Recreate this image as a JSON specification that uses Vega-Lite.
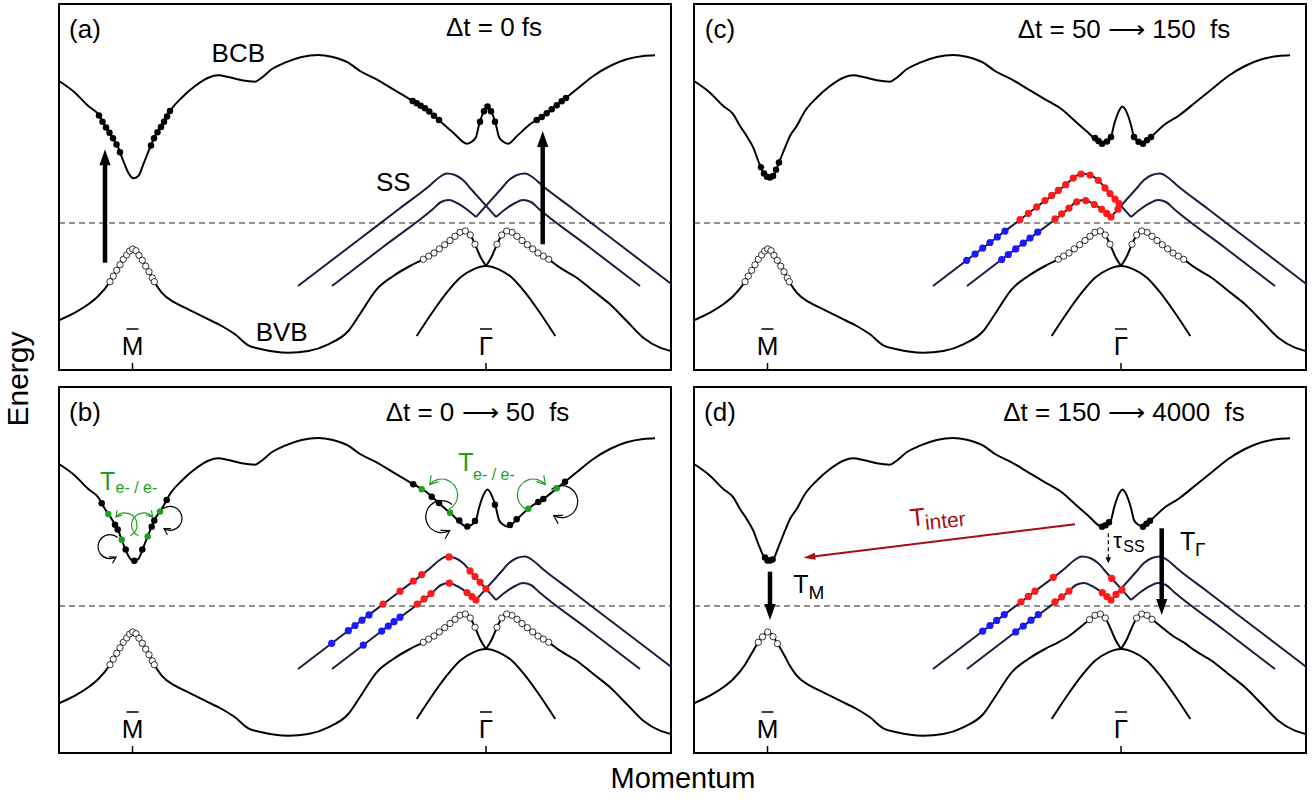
{
"$schema":"https://vega.github.io/schema/vega-lite/v6.json",
"padding":{"left":3,"top":3,"right":0,"bottom":0},
"background":"white",
"data":{"values":[
{"p":["a","b","c","d"],"g":"fermi","k":0,"k2":612,"E":147},
{"p":["a","b","c","d"],"g":"tick","k":73.5,"E":0,"E2":7},
{"p":["a","b","c","d"],"g":"tick","k":427,"E":0,"E2":7},
{"p":["a","b","c","d"],"g":"bar","k":73.5,"E":41},
{"p":["a","b","c","d"],"g":"bar","k":427,"E":41},
{"p":["a","b","c","d"],"g":"lab","k":73.5,"E":23,"txt":"M"},
{"p":["a","b","c","d"],"g":"lab","k":427,"E":23,"txt":"Γ"},
{"p":["a","b","c","d"],"g":"bulk","c":"BCB","k":0,"E":289},
{"p":["a","b","c","d"],"g":"bulk","c":"BCB","k":16,"E":277.3},
{"p":["a","b","c","d"],"g":"bulk","c":"BCB","k":29.3,"E":264},
{"p":["a","b","c","d"],"g":"bulk","c":"BCB","k":39.3,"E":255.7},
{"p":["a","b","c","d"],"g":"bulk","c":"BCB","k":46,"E":244},
{"p":["a","b","c","d"],"g":"bulk","c":"BCB","k":52.7,"E":234},
{"p":["a","b","c","d"],"g":"bulk","c":"BCB","k":59.3,"E":222.3},
{"p":["a","b","c","d"],"g":"bulk","c":"BCB","k":64.3,"E":209},
{"p":["a","b","c","d"],"g":"bulk","c":"BCB","k":69.3,"E":197.3},
{"p":["a","b","c","d"],"g":"bulk","c":"BCB","k":74.3,"E":191.7},
{"p":["a","b","c","d"],"g":"bulk","c":"BCB","k":79.3,"E":194},
{"p":["a","b","c","d"],"g":"bulk","c":"BCB","k":84.3,"E":205.7},
{"p":["a","b","c","d"],"g":"bulk","c":"BCB","k":91,"E":222.3},
{"p":["a","b","c","d"],"g":"bulk","c":"BCB","k":96,"E":234},
{"p":["a","b","c","d"],"g":"bulk","c":"BCB","k":102.7,"E":244},
{"p":["a","b","c","d"],"g":"bulk","c":"BCB","k":111,"E":259},
{"p":["a","b","c","d"],"g":"bulk","c":"BCB","k":122.7,"E":272.3},
{"p":["a","b","c","d"],"g":"bulk","c":"BCB","k":136,"E":284},
{"p":["a","b","c","d"],"g":"bulk","c":"BCB","k":149.3,"E":292.3},
{"p":["a","b","c","d"],"g":"bulk","c":"BCB","k":159.3,"E":294.7},
{"p":["a","b","c","d"],"g":"bulk","c":"BCB","k":169.3,"E":293},
{"p":["a","b","c","d"],"g":"bulk","c":"BCB","k":182.7,"E":289.7},
{"p":["a","b","c","d"],"g":"bulk","c":"BCB","k":196,"E":288.3},
{"p":["a","b","c","d"],"g":"bulk","c":"BCB","k":202.7,"E":292.3},
{"p":["a","b","c","d"],"g":"bulk","c":"BCB","k":212.7,"E":300.7},
{"p":["a","b","c","d"],"g":"bulk","c":"BCB","k":226,"E":307.3},
{"p":["a","b","c","d"],"g":"bulk","c":"BCB","k":242.7,"E":313},
{"p":["a","b","c","d"],"g":"bulk","c":"BCB","k":259.3,"E":315},
{"p":["a","b","c","d"],"g":"bulk","c":"BCB","k":272.7,"E":313.3},
{"p":["a","b","c","d"],"g":"bulk","c":"BCB","k":289.3,"E":307.3},
{"p":["a","b","c","d"],"g":"bulk","c":"BCB","k":301,"E":299},
{"p":["a","b","c","d"],"g":"bulk","c":"BCB","k":317.7,"E":290.7},
{"p":["a","b","c","d"],"g":"bulk","c":"BCB","k":334.3,"E":280.7},
{"p":["a","b","c","d"],"g":"bulk","c":"BCB","k":351,"E":270.7},
{"p":["a","b","c","d"],"g":"bulk","c":"BCB","k":367.7,"E":260.7},
{"p":["a","b","c","d"],"g":"bulk","c":"BCB","k":381,"E":249},
{"p":["a","b","c","d"],"g":"bulk","c":"BCB","k":394.3,"E":237.3},
{"p":["a","b","c","d"],"g":"bulk","c":"BCB","k":408,"E":226.3},
{"p":["a","b","c","d"],"g":"bulk","c":"BCB","k":413,"E":228.5},
{"p":["a","b","c","d"],"g":"bulk","c":"BCB","k":417,"E":233},
{"p":["a","b","c","d"],"g":"bulk","c":"BCB","k":420,"E":245},
{"p":["a","b","c","d"],"g":"bulk","c":"BCB","k":423,"E":254.5},
{"p":["a","b","c","d"],"g":"bulk","c":"BCB","k":426,"E":261},
{"p":["a","b","c","d"],"g":"bulk","c":"BCB","k":428.5,"E":263.5},
{"p":["a","b","c","d"],"g":"bulk","c":"BCB","k":431,"E":261},
{"p":["a","b","c","d"],"g":"bulk","c":"BCB","k":434,"E":254.5},
{"p":["a","b","c","d"],"g":"bulk","c":"BCB","k":437,"E":245},
{"p":["a","b","c","d"],"g":"bulk","c":"BCB","k":440,"E":233},
{"p":["a","b","c","d"],"g":"bulk","c":"BCB","k":444,"E":228.5},
{"p":["a","b","c","d"],"g":"bulk","c":"BCB","k":449,"E":226.3},
{"p":["a","b","c","d"],"g":"bulk","c":"BCB","k":458,"E":234},
{"p":["a","b","c","d"],"g":"bulk","c":"BCB","k":471,"E":245.7},
{"p":["a","b","c","d"],"g":"bulk","c":"BCB","k":484.3,"E":254},
{"p":["a","b","c","d"],"g":"bulk","c":"BCB","k":501,"E":267.3},
{"p":["a","b","c","d"],"g":"bulk","c":"BCB","k":517.7,"E":280.7},
{"p":["a","b","c","d"],"g":"bulk","c":"BCB","k":534.3,"E":294},
{"p":["a","b","c","d"],"g":"bulk","c":"BCB","k":551,"E":304},
{"p":["a","b","c","d"],"g":"bulk","c":"BCB","k":567.7,"E":310.7},
{"p":["a","b","c","d"],"g":"bulk","c":"BCB","k":584.3,"E":314},
{"p":["a","b","c","d"],"g":"bulk","c":"BCB","k":596,"E":314.7},
{"p":["a","b","c","d"],"g":"bulk","c":"BVL","k":0,"E":49.7},
{"p":["a","b","c","d"],"g":"bulk","c":"BVL","k":16,"E":57.3},
{"p":["a","b","c","d"],"g":"bulk","c":"BVL","k":29.3,"E":65.7},
{"p":["a","b","c","d"],"g":"bulk","c":"BVL","k":39.3,"E":74},
{"p":["a","b","c","d"],"g":"bulk","c":"BVL","k":51,"E":88.3},
{"p":["a","b","c","d"],"g":"bulk","c":"BVL","k":57.7,"E":99.7},
{"p":["a","b","c","d"],"g":"bulk","c":"BVL","k":64.3,"E":110.7},
{"p":["a","b","c","d"],"g":"bulk","c":"BVL","k":70.7,"E":119},
{"p":["a","b","c","d"],"g":"bulk","c":"BVL","k":73.7,"E":121},
{"p":["a","b","c","d"],"g":"bulk","c":"BVL","k":77,"E":119.3},
{"p":["a","b","c","d"],"g":"bulk","c":"BVL","k":83.3,"E":109.7},
{"p":["a","b","c","d"],"g":"bulk","c":"BVL","k":90,"E":98.3},
{"p":["a","b","c","d"],"g":"bulk","c":"BVL","k":95.3,"E":88.3},
{"p":["a","b","c","d"],"g":"bulk","c":"BVL","k":102.7,"E":77.3},
{"p":["a","b","c","d"],"g":"bulk","c":"BVL","k":116,"E":67.3},
{"p":["a","b","c","d"],"g":"bulk","c":"BVL","k":129.3,"E":60.7},
{"p":["a","b","c","d"],"g":"bulk","c":"BVL","k":146,"E":52.3},
{"p":["a","b","c","d"],"g":"bulk","c":"BVL","k":162.7,"E":44},
{"p":["a","b","c","d"],"g":"bulk","c":"BVL","k":176,"E":35.7},
{"p":["a","b","c","d"],"g":"bulk","c":"BVL","k":189.3,"E":24.7},
{"p":["a","b","c","d"],"g":"bulk","c":"BVL","k":202.7,"E":20.7},
{"p":["a","b","c","d"],"g":"bulk","c":"BVL","k":229.3,"E":17.3},
{"p":["a","b","c","d"],"g":"bulk","c":"BVL","k":249.3,"E":19},
{"p":["a","b","c","d"],"g":"bulk","c":"BVL","k":269.3,"E":25.7},
{"p":["a","b","c","d"],"g":"bulk","c":"BVL","k":289.3,"E":39},
{"p":["a","b","c","d"],"g":"bulk","c":"BVL","k":301,"E":56},
{"p":["a","b","c","d"],"g":"bulk","c":"BVL","k":317.7,"E":80.7},
{"p":["a","b","c","d"],"g":"bulk","c":"BVL","k":334.3,"E":94},
{"p":["a","b","c","d"],"g":"bulk","c":"BVL","k":351,"E":104},
{"p":["a","b","c","d"],"g":"bulk","c":"BVL","k":364.3,"E":110.7},
{"p":["a","b","c","d"],"g":"bulk","c":"BVL","k":375,"E":117},
{"p":["a","b","c","d"],"g":"bulk","c":"BVL","k":385.7,"E":125.3},
{"p":["a","b","c","d"],"g":"bulk","c":"BVL","k":396,"E":133.7},
{"p":["a","b","c","d"],"g":"bulk","c":"BVL","k":401,"E":137.7},
{"p":["a","b","c","d"],"g":"bulk","c":"BVL","k":406.3,"E":139},
{"p":["a","b","c","d"],"g":"bulk","c":"BVL","k":411.3,"E":135},
{"p":["a","b","c","d"],"g":"bulk","c":"BVL","k":416,"E":125.7},
{"p":["a","b","c","d"],"g":"bulk","c":"BVL","k":421,"E":114},
{"p":["a","b","c","d"],"g":"bulk","c":"BVL","k":427,"E":104},
{"p":["a","b","c","d"],"g":"bulk","c":"BVR","k":427,"E":104},
{"p":["a","b","c","d"],"g":"bulk","c":"BVR","k":433,"E":114},
{"p":["a","b","c","d"],"g":"bulk","c":"BVR","k":438,"E":125.7},
{"p":["a","b","c","d"],"g":"bulk","c":"BVR","k":442.7,"E":135},
{"p":["a","b","c","d"],"g":"bulk","c":"BVR","k":447.7,"E":139},
{"p":["a","b","c","d"],"g":"bulk","c":"BVR","k":453,"E":137.7},
{"p":["a","b","c","d"],"g":"bulk","c":"BVR","k":458,"E":133.7},
{"p":["a","b","c","d"],"g":"bulk","c":"BVR","k":468.3,"E":125.3},
{"p":["a","b","c","d"],"g":"bulk","c":"BVR","k":479,"E":117},
{"p":["a","b","c","d"],"g":"bulk","c":"BVR","k":489.7,"E":110.7},
{"p":["a","b","c","d"],"g":"bulk","c":"BVR","k":501,"E":102.3},
{"p":["a","b","c","d"],"g":"bulk","c":"BVR","k":517.7,"E":92.3},
{"p":["a","b","c","d"],"g":"bulk","c":"BVR","k":534.3,"E":79},
{"p":["a","b","c","d"],"g":"bulk","c":"BVR","k":551,"E":65.7},
{"p":["a","b","c","d"],"g":"bulk","c":"BVR","k":567.7,"E":49},
{"p":["a","b","c","d"],"g":"bulk","c":"BVR","k":584.3,"E":32.3},
{"p":["a","b","c","d"],"g":"bulk","c":"BVR","k":601,"E":22.3},
{"p":["a","b","c","d"],"g":"bulk","c":"BVR","k":612,"E":19},
{"p":["a","b","c","d"],"g":"bulk","c":"GVB","k":357.7,"E":34},
{"p":["a","b","c","d"],"g":"bulk","c":"GVB","k":374.3,"E":59},
{"p":["a","b","c","d"],"g":"bulk","c":"GVB","k":387.7,"E":77.3},
{"p":["a","b","c","d"],"g":"bulk","c":"GVB","k":401,"E":92.3},
{"p":["a","b","c","d"],"g":"bulk","c":"GVB","k":414.3,"E":100.7},
{"p":["a","b","c","d"],"g":"bulk","c":"GVB","k":427,"E":104},
{"p":["a","b","c","d"],"g":"bulk","c":"GVB","k":439.7,"E":100.7},
{"p":["a","b","c","d"],"g":"bulk","c":"GVB","k":453,"E":92.3},
{"p":["a","b","c","d"],"g":"bulk","c":"GVB","k":466.3,"E":77.3},
{"p":["a","b","c","d"],"g":"bulk","c":"GVB","k":479.7,"E":59},
{"p":["a","b","c","d"],"g":"bulk","c":"GVB","k":496.3,"E":34},
{"p":["a","b","c","d"],"g":"surf","c":"A1","k":239,"E":84},
{"p":["a","b","c","d"],"g":"surf","c":"A1","k":300,"E":130.5},
{"p":["a","b","c","d"],"g":"surf","c":"A1","k":340,"E":161},
{"p":["a","b","c","d"],"g":"surf","c":"A1","k":372,"E":185.5},
{"p":["a","b","c","d"],"g":"surf","c":"A1","k":380,"E":192.5},
{"p":["a","b","c","d"],"g":"surf","c":"A1","k":388,"E":196.5},
{"p":["a","b","c","d"],"g":"surf","c":"A1","k":396,"E":195},
{"p":["a","b","c","d"],"g":"surf","c":"A1","k":404,"E":190},
{"p":["a","b","c","d"],"g":"surf","c":"A1","k":412,"E":181},
{"p":["a","b","c","d"],"g":"surf","c":"A1","k":437,"E":153},
{"p":["a","b","c","d"],"g":"surf","c":"A2","k":437,"E":153},
{"p":["a","b","c","d"],"g":"surf","c":"A2","k":446,"E":160.5},
{"p":["a","b","c","d"],"g":"surf","c":"A2","k":456,"E":167},
{"p":["a","b","c","d"],"g":"surf","c":"A2","k":464,"E":170},
{"p":["a","b","c","d"],"g":"surf","c":"A2","k":472,"E":168},
{"p":["a","b","c","d"],"g":"surf","c":"A2","k":480,"E":161},
{"p":["a","b","c","d"],"g":"surf","c":"A2","k":530,"E":123},
{"p":["a","b","c","d"],"g":"surf","c":"A2","k":581,"E":84},
{"p":["a","b","c","d"],"g":"surf","c":"B1","k":273,"E":84},
{"p":["a","b","c","d"],"g":"surf","c":"B1","k":324,"E":123},
{"p":["a","b","c","d"],"g":"surf","c":"B1","k":374,"E":161},
{"p":["a","b","c","d"],"g":"surf","c":"B1","k":382,"E":168},
{"p":["a","b","c","d"],"g":"surf","c":"B1","k":390,"E":170},
{"p":["a","b","c","d"],"g":"surf","c":"B1","k":398,"E":167},
{"p":["a","b","c","d"],"g":"surf","c":"B1","k":408,"E":160.5},
{"p":["a","b","c","d"],"g":"surf","c":"B1","k":417,"E":153},
{"p":["a","b","c","d"],"g":"surf","c":"B2","k":417,"E":153},
{"p":["a","b","c","d"],"g":"surf","c":"B2","k":442,"E":181},
{"p":["a","b","c","d"],"g":"surf","c":"B2","k":450,"E":190},
{"p":["a","b","c","d"],"g":"surf","c":"B2","k":458,"E":195},
{"p":["a","b","c","d"],"g":"surf","c":"B2","k":466,"E":196.5},
{"p":["a","b","c","d"],"g":"surf","c":"B2","k":474,"E":192.5},
{"p":["a","b","c","d"],"g":"surf","c":"B2","k":482,"E":185.5},
{"p":["a","b","c","d"],"g":"surf","c":"B2","k":514,"E":161},
{"p":["a","b","c","d"],"g":"surf","c":"B2","k":554,"E":130.5},
{"p":["a","b","c","d"],"g":"surf","c":"B2","k":612,"E":86.3},

{"p":["a"],"g":"lab","k":26,"E":340,"txt":"(a)"},
{"p":["a"],"g":"lab","k":179.3,"E":315.7,"txt":"BCB"},
{"p":["a"],"g":"lab","k":222.7,"E":37.3,"txt":"BVB"},
{"p":["a"],"g":"lab","k":334.3,"E":187.3,"txt":"SS"},
{"p":["a"],"g":"lab","k":435,"E":342,"txt":"Δt = 0 fs"},
{"p":["b"],"g":"lab","k":26,"E":340,"txt":"(b)"},
{"p":["b"],"g":"lab","k":418.5,"E":340,"txt":"Δt = 0 ⟶ 50 \u00a0fs"},
{"p":["c"],"g":"lab","k":26,"E":340,"txt":"(c)"},
{"p":["c"],"g":"lab","k":430,"E":340,"txt":"Δt = 50 ⟶ 150 \u00a0fs"},
{"p":["d"],"g":"lab","k":26,"E":340,"txt":"(d)"},
{"p":["d"],"g":"lab","k":430,"E":340,"txt":"Δt = 150 ⟶ 4000 \u00a0fs"},

{"p":["b"],"g":"tx","r":"tauG","k":41,"E":271.3,"txt":"Τ"},
{"p":["b"],"g":"tx","r":"subG","k":56.5,"E":265.5,"txt":"e- / e-"},
{"p":["b"],"g":"tx","r":"tauG","k":399.3,"E":290.2,"txt":"Τ"},
{"p":["b"],"g":"tx","r":"subG","k":414,"E":278,"txt":"e- / e-"},
{"p":["d"],"g":"tx","r":"tauR","k":216,"E":234.5,"txt":"Τ"},
{"p":["d"],"g":"tx","r":"subR","k":231,"E":229,"txt":"inter"},
{"p":["d"],"g":"tx","r":"tauK","k":99.3,"E":168,"txt":"Τ"},
{"p":["d"],"g":"tx","r":"subK","k":114.5,"E":159.7,"txt":"M"},
{"p":["d"],"g":"tx","r":"tauS","k":419.3,"E":212,"txt":"τ"},
{"p":["d"],"g":"tx","r":"subS","k":429.3,"E":206,"txt":"SS"},
{"p":["d"],"g":"tx","r":"tauK","k":486,"E":211.3,"txt":"Τ"},
{"p":["d"],"g":"tx","r":"subK","k":501,"E":203,"txt":"Γ"},

{"p":["a"],"g":"shaft","t":"up","k":46,"E":107.3,"k2":46,"E2":212.7},
{"p":["a"],"g":"shaft","t":"up","k":483.7,"E":125.7,"k2":483.7,"E2":231},
{"p":["a"],"g":"head","t":"up","k":46,"E":212.7},
{"p":["a"],"g":"head","t":"up","k":483.7,"E":231},
{"p":["d"],"g":"shaft","t":"down","k":76,"E":181.3,"k2":76,"E2":141},
{"p":["d"],"g":"shaft","t":"down","k":467.7,"E":224.7,"k2":467.7,"E2":146},
{"p":["d"],"g":"head","t":"down","k":76,"E":141},
{"p":["d"],"g":"head","t":"down","k":467.7,"E":146},
{"p":["d"],"g":"shaft","t":"inter","k":381,"E":228.7,"k2":115.3,"E2":196},
{"p":["d"],"g":"head","t":"inter","k":115.3,"E":196},
{"p":["d"],"g":"shaft","t":"ssd","k":414.3,"E":219.7,"k2":414.3,"E2":192.7},
{"p":["d"],"g":"head","t":"ssd","k":414.3,"E":192.7},

{"p":["b"],"g":"arc","t":"bL","s":"1","k":51,"E":206.3},
{"p":["b"],"g":"arc","t":"bR","s":"1","k":111,"E":234.7},
{"p":["b"],"g":"arc","t":"gL","s":"1","k":66,"E":228},
{"p":["b"],"g":"arc","t":"gR","s":"1","k":84.6,"E":228},
{"p":["b"],"g":"arc","t":"gL","s":"2","k":382.7,"E":258},
{"p":["b"],"g":"arc","t":"gR","s":"2","k":474.3,"E":258},
{"p":["b"],"g":"arc","t":"bL","s":"2","k":382.7,"E":236.3},
{"p":["b"],"g":"arc","t":"bR","s":"2","k":502.7,"E":251.3},

{"p":["a","b","c"],"g":"hole","k":51,"E":88.3},
{"p":["a","b","c"],"g":"hole","k":54.3,"E":93.9},
{"p":["a","b","c"],"g":"hole","k":57.7,"E":99.7},
{"p":["a","b","c"],"g":"hole","k":61,"E":105.2},
{"p":["a","b","c"],"g":"hole","k":64.3,"E":110.7},
{"p":["a","b","c"],"g":"hole","k":67.7,"E":115.1},
{"p":["a","b","c"],"g":"hole","k":70.7,"E":119},
{"p":["a","b","c"],"g":"hole","k":73.7,"E":121},
{"p":["a","b","c"],"g":"hole","k":77,"E":119.3},
{"p":["a","b","c"],"g":"hole","k":80,"E":114.7},
{"p":["a","b","c"],"g":"hole","k":83.3,"E":109.7},
{"p":["a","b","c"],"g":"hole","k":86.7,"E":103.9},
{"p":["a","b","c"],"g":"hole","k":90,"E":98.3},
{"p":["a","b","c"],"g":"hole","k":93.3,"E":92.1},
{"p":["a","b","c"],"g":"hole","k":95.3,"E":88.3},
{"p":["a","b","c"],"g":"hole","k":364.3,"E":110.7},
{"p":["a","b","c"],"g":"hole","k":369.7,"E":113.9},
{"p":["a","b","c"],"g":"hole","k":375,"E":117},
{"p":["a","b","c"],"g":"hole","k":380.3,"E":121.1},
{"p":["a","b","c"],"g":"hole","k":385.7,"E":125.3},
{"p":["a","b","c"],"g":"hole","k":391,"E":129.5},
{"p":["a","b","c"],"g":"hole","k":396,"E":133.7},
{"p":["a","b","c"],"g":"hole","k":401,"E":137.7},
{"p":["a","b","c"],"g":"hole","k":406.3,"E":139},
{"p":["a","b","c"],"g":"hole","k":411.3,"E":135},
{"p":["a","b","c"],"g":"hole","k":416,"E":125.7},
{"p":["a","b","c"],"g":"hole","k":489.7,"E":110.7},
{"p":["a","b","c"],"g":"hole","k":484.3,"E":113.9},
{"p":["a","b","c"],"g":"hole","k":479,"E":117},
{"p":["a","b","c"],"g":"hole","k":473.7,"E":121.1},
{"p":["a","b","c"],"g":"hole","k":468.3,"E":125.3},
{"p":["a","b","c"],"g":"hole","k":463,"E":129.5},
{"p":["a","b","c"],"g":"hole","k":458,"E":133.7},
{"p":["a","b","c"],"g":"hole","k":453,"E":137.7},
{"p":["a","b","c"],"g":"hole","k":447.7,"E":139},
{"p":["a","b","c"],"g":"hole","k":442.7,"E":135},
{"p":["a","b","c"],"g":"hole","k":438,"E":125.7},
{"p":["d"],"g":"hole","k":64.3,"E":110.7},
{"p":["d"],"g":"hole","k":68.5,"E":116.1},
{"p":["d"],"g":"hole","k":73.7,"E":121},
{"p":["d"],"g":"hole","k":79,"E":116.3},
{"p":["d"],"g":"hole","k":83.5,"E":109.4},
{"p":["d"],"g":"hole","k":395.5,"E":133.3},
{"p":["d"],"g":"hole","k":401,"E":137.7},
{"p":["d"],"g":"hole","k":406.3,"E":139},
{"p":["d"],"g":"hole","k":411.3,"E":135},
{"p":["d"],"g":"hole","k":442.7,"E":135},
{"p":["d"],"g":"hole","k":447.7,"E":139},
{"p":["d"],"g":"hole","k":453,"E":137.7},
{"p":["d"],"g":"hole","k":458,"E":133.7},

{"p":["a"],"g":"eK","k":40,"E":254.5},
{"p":["a"],"g":"eK","k":43.5,"E":248.3},
{"p":["a"],"g":"eK","k":47,"E":242.5},
{"p":["a"],"g":"eK","k":50.5,"E":237.3},
{"p":["a"],"g":"eK","k":54,"E":231.7},
{"p":["a"],"g":"eK","k":57.5,"E":225.5},
{"p":["a"],"g":"eK","k":61,"E":217.8},
{"p":["a"],"g":"eK","k":92,"E":224.6},
{"p":["a"],"g":"eK","k":95,"E":231.7},
{"p":["a"],"g":"eK","k":98.5,"E":237.7},
{"p":["a"],"g":"eK","k":102,"E":243},
{"p":["a"],"g":"eK","k":105,"E":248.2},
{"p":["a"],"g":"eK","k":108,"E":253.6},
{"p":["a"],"g":"eK","k":111,"E":259},
{"p":["a"],"g":"eK","k":353.7,"E":269.1},
{"p":["a"],"g":"eK","k":357.7,"E":266.7},
{"p":["a"],"g":"eK","k":361.7,"E":264.3},
{"p":["a"],"g":"eK","k":366,"E":261.7},
{"p":["a"],"g":"eK","k":370.3,"E":258.4},
{"p":["a"],"g":"eK","k":375,"E":254.3},
{"p":["a"],"g":"eK","k":380,"E":249.9},
{"p":["a"],"g":"eK","k":421,"E":248.2},
{"p":["a"],"g":"eK","k":425,"E":258.8},
{"p":["a"],"g":"eK","k":428.5,"E":263.5},
{"p":["a"],"g":"eK","k":432,"E":258.8},
{"p":["a"],"g":"eK","k":436,"E":248.2},
{"p":["a"],"g":"eK","k":477.7,"E":249.9},
{"p":["a"],"g":"eK","k":482.7,"E":253},
{"p":["a"],"g":"eK","k":487.7,"E":256.7},
{"p":["a"],"g":"eK","k":492.7,"E":260.7},
{"p":["a"],"g":"eK","k":497.7,"E":264.7},
{"p":["a"],"g":"eK","k":502.7,"E":268.7},
{"p":["a"],"g":"eK","k":507,"E":272.1},

{"p":["b"],"g":"eK","k":42.7,"E":249.8},
{"p":["b"],"g":"eK","k":56,"E":228.2},
{"p":["b"],"g":"eK","k":58.7,"E":223.4},
{"p":["b"],"g":"eK","k":66.7,"E":203.4},
{"p":["b"],"g":"eK","k":75.3,"E":192.2},
{"p":["b"],"g":"eK","k":83.3,"E":203.4},
{"p":["b"],"g":"eK","k":92.7,"E":226.3},
{"p":["b"],"g":"eK","k":95.3,"E":232.4},
{"p":["b"],"g":"eK","k":107.7,"E":253},
{"p":["b"],"g":"eK","k":354.3,"E":268.7},
{"p":["b"],"g":"eK","k":372.7,"E":256.3},
{"p":["b"],"g":"eK","k":380,"E":249.9},
{"p":["b"],"g":"eK","k":400.3,"E":232.4},
{"p":["b"],"g":"eK","k":408.3,"E":226.4},
{"p":["b"],"g":"eK","k":416,"E":231.9},
{"p":["b"],"g":"eK","k":436,"E":248.2},
{"p":["b"],"g":"eK","k":451,"E":228},
{"p":["b"],"g":"eK","k":457.7,"E":233.7},
{"p":["b"],"g":"eK","k":479.3,"E":250.9},
{"p":["b"],"g":"eK","k":484.3,"E":254},
{"p":["b"],"g":"eK","k":506,"E":271.3},
{"p":["b"],"g":"eG","k":49.3,"E":239.1},
{"p":["b"],"g":"eG","k":62.7,"E":213.3},
{"p":["b"],"g":"eG","k":88.7,"E":216.6},
{"p":["b"],"g":"eG","k":101,"E":241.5},
{"p":["b"],"g":"eG","k":362.7,"E":263.7},
{"p":["b"],"g":"eG","k":391,"E":240.2},
{"p":["b"],"g":"eG","k":469.3,"E":244.2},
{"p":["b"],"g":"eG","k":497.7,"E":264.7},
{"p":["b"],"g":"eR","k":324,"E":148.9},
{"p":["b"],"g":"eR","k":341,"E":161.8},
{"p":["b"],"g":"eR","k":354.3,"E":172},
{"p":["b"],"g":"eR","k":362.7,"E":178.4},
{"p":["b"],"g":"eR","k":390,"E":196.1},
{"p":["b"],"g":"eR","k":411,"E":182.1},
{"p":["b"],"g":"eR","k":416,"E":176.5},
{"p":["b"],"g":"eR","k":421,"E":170.9},
{"p":["b"],"g":"eR","k":427,"E":164.2},
{"p":["b"],"g":"eR","k":358.3,"E":149},
{"p":["b"],"g":"eR","k":365,"E":154.1},
{"p":["b"],"g":"eR","k":372,"E":159.5},
{"p":["b"],"g":"eR","k":390.3,"E":169.9},
{"p":["b"],"g":"eR","k":408,"E":160.5},
{"p":["b"],"g":"eR","k":413,"E":156.3},
{"p":["b"],"g":"eR","k":417,"E":153},
{"p":["b"],"g":"eB","k":272.7,"E":109.7},
{"p":["b"],"g":"eB","k":289.3,"E":122.3},
{"p":["b"],"g":"eB","k":296,"E":127.5},
{"p":["b"],"g":"eB","k":303,"E":132.8},
{"p":["b"],"g":"eB","k":310,"E":138.1},
{"p":["b"],"g":"eB","k":304.3,"E":107.9},
{"p":["b"],"g":"eB","k":322.7,"E":121.9},
{"p":["b"],"g":"eB","k":329.3,"E":126.9},
{"p":["b"],"g":"eB","k":335,"E":131.3},
{"p":["b"],"g":"eB","k":341,"E":135.8},

{"p":["c"],"g":"eK","k":67,"E":202.7},
{"p":["c"],"g":"eK","k":70,"E":196.5},
{"p":["c"],"g":"eK","k":73,"E":193.2},
{"p":["c"],"g":"eK","k":76,"E":192.5},
{"p":["c"],"g":"eK","k":79,"E":193.9},
{"p":["c"],"g":"eK","k":82,"E":200.3},
{"p":["c"],"g":"eK","k":85,"E":207.4},
{"p":["c"],"g":"eK","k":401,"E":231.9},
{"p":["c"],"g":"eK","k":404.5,"E":229.1},
{"p":["c"],"g":"eK","k":408,"E":226.3},
{"p":["c"],"g":"eK","k":413,"E":228.5},
{"p":["c"],"g":"eK","k":417,"E":233},
{"p":["c"],"g":"eK","k":440,"E":233},
{"p":["c"],"g":"eK","k":444.5,"E":228.3},
{"p":["c"],"g":"eK","k":449,"E":226.3},
{"p":["c"],"g":"eK","k":453,"E":229.7},
{"p":["c"],"g":"eK","k":457,"E":233.1},
{"p":["c"],"g":"eR","k":326,"E":150.4},
{"p":["c"],"g":"eR","k":334.3,"E":156.7},
{"p":["c"],"g":"eR","k":342.7,"E":163.1},
{"p":["c"],"g":"eR","k":351,"E":169.5},
{"p":["c"],"g":"eR","k":357.7,"E":174.6},
{"p":["c"],"g":"eR","k":364.3,"E":179.6},
{"p":["c"],"g":"eR","k":371.7,"E":185.3},
{"p":["c"],"g":"eR","k":379.3,"E":191.9},
{"p":["c"],"g":"eR","k":387,"E":196},
{"p":["c"],"g":"eR","k":396,"E":195},
{"p":["c"],"g":"eR","k":404.3,"E":189.7},
{"p":["c"],"g":"eR","k":411,"E":182.1},
{"p":["c"],"g":"eR","k":416,"E":176.5},
{"p":["c"],"g":"eR","k":421,"E":170.9},
{"p":["c"],"g":"eR","k":425,"E":166.4},
{"p":["c"],"g":"eR","k":361,"E":151.1},
{"p":["c"],"g":"eR","k":367.7,"E":156.2},
{"p":["c"],"g":"eR","k":375,"E":161.9},
{"p":["c"],"g":"eR","k":382.7,"E":168.2},
{"p":["c"],"g":"eR","k":391.7,"E":169.4},
{"p":["c"],"g":"eR","k":400.3,"E":165.5},
{"p":["c"],"g":"eR","k":407.7,"E":160.7},
{"p":["c"],"g":"eR","k":412.7,"E":156.6},
{"p":["c"],"g":"eR","k":417,"E":153},
{"p":["c"],"g":"eR","k":424,"E":160.8},
{"p":["c"],"g":"eB","k":272.7,"E":109.7},
{"p":["c"],"g":"eB","k":281,"E":116},
{"p":["c"],"g":"eB","k":288.7,"E":121.9},
{"p":["c"],"g":"eB","k":296,"E":127.5},
{"p":["c"],"g":"eB","k":303.3,"E":133.1},
{"p":["c"],"g":"eB","k":311,"E":138.9},
{"p":["c"],"g":"eB","k":307.7,"E":110.5},
{"p":["c"],"g":"eB","k":314.3,"E":115.5},
{"p":["c"],"g":"eB","k":321.7,"E":121.1},
{"p":["c"],"g":"eB","k":329.3,"E":126.9},
{"p":["c"],"g":"eB","k":336,"E":132},
{"p":["c"],"g":"eB","k":343.7,"E":137.9},

{"p":["d"],"g":"eK","k":71,"E":195.4},
{"p":["d"],"g":"eK","k":73.5,"E":192.6},
{"p":["d"],"g":"eK","k":76,"E":192.5},
{"p":["d"],"g":"eK","k":78.5,"E":193.6},
{"p":["d"],"g":"eK","k":408,"E":226.3},
{"p":["d"],"g":"eK","k":411.5,"E":227.8},
{"p":["d"],"g":"eK","k":415,"E":230.7},
{"p":["d"],"g":"eK","k":449,"E":226.3},
{"p":["d"],"g":"eK","k":452.5,"E":229.3},
{"p":["d"],"g":"eK","k":456,"E":232.3},
{"p":["d"],"g":"eR","k":327,"E":151.1},
{"p":["d"],"g":"eR","k":334.3,"E":156.6},
{"p":["d"],"g":"eR","k":341,"E":161.8},
{"p":["d"],"g":"eR","k":359.3,"E":175.7},
{"p":["d"],"g":"eR","k":417.7,"E":174.6},
{"p":["d"],"g":"eR","k":428,"E":163.1},
{"p":["d"],"g":"eR","k":361,"E":151.1},
{"p":["d"],"g":"eR","k":367.7,"E":156.2},
{"p":["d"],"g":"eR","k":375,"E":161.9},
{"p":["d"],"g":"eR","k":408.3,"E":160.3},
{"p":["d"],"g":"eR","k":413,"E":156.3},
{"p":["d"],"g":"eR","k":417,"E":153},
{"p":["d"],"g":"eR","k":422,"E":158.6},
{"p":["d"],"g":"eB","k":288.7,"E":121.9},
{"p":["d"],"g":"eB","k":296,"E":127.5},
{"p":["d"],"g":"eB","k":302.7,"E":132.6},
{"p":["d"],"g":"eB","k":310.3,"E":138.4},
{"p":["d"],"g":"eB","k":321.7,"E":121.1},
{"p":["d"],"g":"eB","k":329.3,"E":126.9},
{"p":["d"],"g":"eB","k":337,"E":132.8},
{"p":["d"],"g":"eB","k":344.3,"E":138.4}
]},
"transform":[
{"flatten":["p"],"as":["panel"]},
{"lookup":"panel","from":{"data":{"values":[{"panel":"a","row":"top","col":"left"},{"panel":"b","row":"bottom","col":"left"},{"panel":"c","row":"top","col":"right"},{"panel":"d","row":"bottom","col":"right"}]},"key":"panel","fields":["row","col"]}}
],
"facet":{
"row":{"field":"row","type":"nominal","sort":["top","bottom"],"title":"Energy","header":{"labels":false,"titleFontSize":30,"titleFontWeight":"normal","titleFont":"Liberation Sans","titlePadding":10,"titleColor":"black"}},
"column":{"field":"col","type":"nominal","sort":["left","right"],"title":"Momentum","header":{"labels":false,"titleOrient":"bottom","titleFontSize":29,"titleFontWeight":"normal","titleFont":"Liberation Sans","titlePadding":0,"titleColor":"black"}}
},
"spacing":{"row":14,"column":13},
"spec":{
"width":612,"height":366,
"encoding":{
"x":{"field":"k","type":"quantitative","scale":{"domain":[0,612],"nice":false,"zero":false},"axis":null},
"y":{"field":"E","type":"quantitative","scale":{"domain":[0,366],"nice":false,"zero":false},"axis":null}
},
"layer":[
{"transform":[{"filter":"datum.g==='fermi'"}],"mark":{"type":"rule","strokeDash":[6,4],"strokeWidth":1,"color":"#222222"},"encoding":{"x2":{"field":"k2"}}},
{"transform":[{"filter":"datum.g==='bulk'"}],"mark":{"type":"line","interpolate":"monotone","strokeWidth":2,"color":"black"},"encoding":{"detail":{"field":"c","type":"nominal"}}},
{"transform":[{"filter":"datum.g==='surf'"}],"mark":{"type":"line","interpolate":"monotone","strokeWidth":2,"color":"#1c1c40"},"encoding":{"detail":{"field":"c","type":"nominal"}}},
{"transform":[{"filter":"datum.g==='tick'"}],"mark":{"type":"rule","strokeWidth":1.5,"color":"black"},"encoding":{"y2":{"field":"E2"}}},
{"transform":[{"filter":"datum.g==='bar'"}],"mark":{"type":"rule","strokeWidth":1.5,"color":"black","xOffset":-6,"x2Offset":6},"encoding":{"x2":{"field":"k"}}},
{"transform":[{"filter":"datum.g==='shaft'&&(datum.t==='up'||datum.t==='down')"}],"mark":{"type":"rule","strokeWidth":4.5,"color":"black"},"encoding":{"x2":{"field":"k2"},"y2":{"field":"E2"}}},
{"transform":[{"filter":"datum.g==='shaft'&&datum.t==='inter'"}],"mark":{"type":"rule","strokeWidth":2,"color":"#a50f15"},"encoding":{"x2":{"field":"k2"},"y2":{"field":"E2"}}},
{"transform":[{"filter":"datum.g==='shaft'&&datum.t==='ssd'"}],"mark":{"type":"rule","strokeWidth":1.2,"strokeDash":[4,3],"color":"black"},"encoding":{"x2":{"field":"k2"},"y2":{"field":"E2"}}},
{"transform":[{"filter":"datum.g==='head'&&datum.t==='up'"}],"mark":{"type":"point","shape":"M0,-0.5L0.35,0.5L-0.35,0.5Z","size":1024,"filled":true,"color":"black","opacity":1,"strokeWidth":0}},
{"transform":[{"filter":"datum.g==='head'&&datum.t==='down'"}],"mark":{"type":"point","shape":"M0,0.5L0.35,-0.5L-0.35,-0.5Z","size":1024,"filled":true,"color":"black","opacity":1,"strokeWidth":0}},
{"transform":[{"filter":"datum.g==='head'&&datum.t==='inter'"}],"mark":{"type":"point","shape":"M-0.496,0.061L0.533,0.237L0.459,-0.359Z","size":576,"filled":true,"color":"#a50f15","opacity":1,"strokeWidth":0}},
{"transform":[{"filter":"datum.g==='head'&&datum.t==='ssd'"}],"mark":{"type":"point","shape":"M0,0.5L0.45,-0.5L-0.45,-0.5Z","size":144,"filled":true,"color":"black","opacity":1,"strokeWidth":0}},
{"transform":[{"filter":"datum.g==='arc'&&datum.s==='1'"}],"mark":{"type":"point","filled":false,"opacity":1,"strokeWidth":1.2,"size":576},"encoding":{
"shape":{"field":"t","type":"nominal","scale":{"domain":["gL","gR","bL","bR"],"range":["M0.438,0.899A1,1 0 1,0 -0.755,-0.656M-0.2,-0.837L-0.755,-0.656L-0.654,-1.231","M-0.438,0.899A1,1 0 1,1 0.755,-0.656M0.2,-0.837L0.755,-0.656L0.654,-1.231","M0.643,-0.766A1,1 0 1,0 0.5,0.866M0.217,1.376L0.5,0.866L-0.083,0.856","M-0.643,-0.766A1,1 0 1,1 -0.5,0.866M-0.217,1.376L-0.5,0.866L0.083,0.856"]},"legend":null},
"stroke":{"field":"t","type":"nominal","scale":{"domain":["gL","gR","bL","bR"],"range":["#1f9e1f","#1f9e1f","black","black"]},"legend":null}}},
{"transform":[{"filter":"datum.g==='arc'&&datum.s==='2'"}],"mark":{"type":"point","filled":false,"opacity":1,"strokeWidth":1.2,"size":1024},"encoding":{
"shape":{"field":"t","type":"nominal","scale":{"domain":["gL","gR","bL","bR"],"range":["M0.438,0.899A1,1 0 1,0 -0.755,-0.656M-0.2,-0.837L-0.755,-0.656L-0.654,-1.231","M-0.438,0.899A1,1 0 1,1 0.755,-0.656M0.2,-0.837L0.755,-0.656L0.654,-1.231","M0.643,-0.766A1,1 0 1,0 0.5,0.866M0.217,1.376L0.5,0.866L-0.083,0.856","M-0.643,-0.766A1,1 0 1,1 -0.5,0.866M-0.217,1.376L-0.5,0.866L0.083,0.856"]},"legend":null},
"stroke":{"field":"t","type":"nominal","scale":{"domain":["gL","gR","bL","bR"],"range":["#1f9e1f","#1f9e1f","black","black"]},"legend":null}}},
{"transform":[{"filter":"datum.g==='hole'"}],"mark":{"type":"point","filled":true,"fill":"white","stroke":"black","strokeWidth":0.8,"size":40,"opacity":1}},
{"transform":[{"filter":"datum.g==='eK'||datum.g==='eG'"}],"mark":{"type":"point","filled":true,"opacity":1,"size":42,"strokeWidth":0},"encoding":{"fill":{"field":"g","type":"nominal","scale":{"domain":["eK","eG","eR","eB"],"range":["black","#1f9e1f","#ff1a1a","#1a1aff"]},"legend":null}}},
{"transform":[{"filter":"datum.g==='eR'||datum.g==='eB'"}],"mark":{"type":"point","filled":true,"opacity":1,"size":52,"strokeWidth":0},"encoding":{"fill":{"field":"g","type":"nominal","scale":{"domain":["eK","eG","eR","eB"],"range":["black","#1f9e1f","#ff1a1a","#1a1aff"]},"legend":null}}},
{"transform":[{"filter":"datum.g==='lab'"}],"mark":{"type":"text","align":"center","baseline":"middle","font":"Liberation Sans","fontSize":26,"color":"black"},"encoding":{"text":{"field":"txt","type":"nominal"}}},
{"transform":[{"filter":"datum.r==='tauK'"}],"mark":{"type":"text","align":"left","baseline":"middle","font":"Liberation Sans","fontSize":25,"color":"black"},"encoding":{"text":{"field":"txt","type":"nominal"}}},
{"transform":[{"filter":"datum.r==='subK'"}],"mark":{"type":"text","align":"left","baseline":"middle","font":"Liberation Sans","fontSize":19,"color":"black"},"encoding":{"text":{"field":"txt","type":"nominal"}}},
{"transform":[{"filter":"datum.r==='tauG'"}],"mark":{"type":"text","align":"left","baseline":"middle","font":"Liberation Sans","fontSize":25,"color":"#1f9e1f"},"encoding":{"text":{"field":"txt","type":"nominal"}}},
{"transform":[{"filter":"datum.r==='subG'"}],"mark":{"type":"text","align":"left","baseline":"middle","font":"Liberation Sans","fontSize":16,"color":"#1f9e1f"},"encoding":{"text":{"field":"txt","type":"nominal"}}},
{"transform":[{"filter":"datum.r==='tauR'"}],"mark":{"type":"text","align":"left","baseline":"middle","font":"Liberation Sans","fontSize":25,"color":"#a50f15","angle":354},"encoding":{"text":{"field":"txt","type":"nominal"}}},
{"transform":[{"filter":"datum.r==='subR'"}],"mark":{"type":"text","align":"left","baseline":"middle","font":"Liberation Sans","fontSize":21,"color":"#a50f15","angle":354},"encoding":{"text":{"field":"txt","type":"nominal"}}},
{"transform":[{"filter":"datum.r==='tauS'"}],"mark":{"type":"text","align":"left","baseline":"middle","font":"Liberation Sans","fontSize":22,"color":"black"},"encoding":{"text":{"field":"txt","type":"nominal"}}},
{"transform":[{"filter":"datum.r==='subS'"}],"mark":{"type":"text","align":"left","baseline":"middle","font":"Liberation Sans","fontSize":16,"color":"black"},"encoding":{"text":{"field":"txt","type":"nominal"}}}
]
},
"config":{"view":{"stroke":"black","strokeWidth":2},"font":"Liberation Sans"}
}
